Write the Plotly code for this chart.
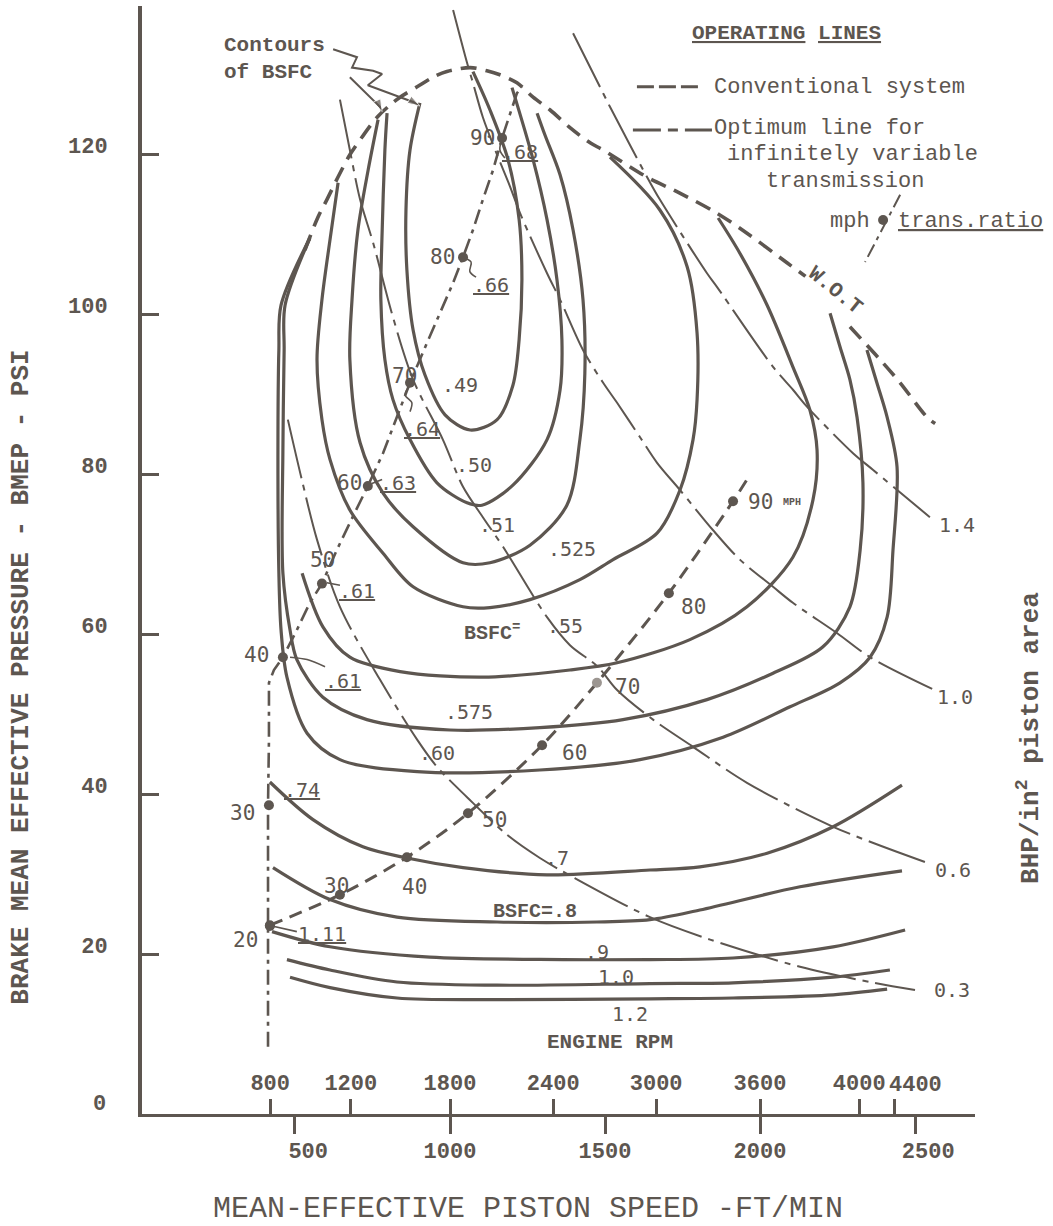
import plotly.graph_objects as go

INK = "#5d5650"
TYPE = "DejaVu Sans Mono"
MONO = "Liberation Mono"

# ---------------- axes ----------------
bmep_ticks = [20, 40, 60, 80, 100, 120]
speed_ticks = [500, 1000, 1500, 2000, 2500]
speed_labels = ["500", "1000", "1500", "2000", "2500"]
rpm_labels = ["800", "1200", "1800", "2400", "3000", "3600", "4000", "4400"]
rpm_at_speed = [420, 680, 1000, 1333, 1665, 2000, 2320, 2435]

# ---------------- BSFC contours (ft/min, BMEP psi) ----------------
c49_fpm = [903, 871, 858, 861, 881, 919, 984, 1065, 1152, 1203, 1223, 1232, 1223, 1187, 1129, 1074]
c49_bmep = [126.4, 120.5, 113.0, 105.5, 98.0, 92.4, 87.4, 85.5, 86.8, 91.1, 96.8, 104.3, 111.8, 119.3, 125.5, 130.3]

c50_fpm = [797, 790, 781, 777, 790, 816, 871, 958, 1055, 1103, 1203, 1313, 1355, 1361, 1345, 1313, 1268, 1200]
c50_bmep = [125.1, 120.5, 110.1, 101.8, 94.3, 89.3, 84.3, 78.9, 76.4, 76.1, 78.6, 84.3, 90.5, 96.8, 104.3, 111.8, 119.3, 128.3]

c51_fpm = [768, 736, 703, 684, 677, 710, 784, 881, 1042, 1129, 1258, 1377, 1419, 1435, 1429, 1397, 1355, 1306, 1281]
c51_bmep = [124.3, 118.0, 110.5, 101.8, 94.3, 83.9, 77.6, 73.4, 68.9, 68.9, 71.1, 76.1, 84.3, 92.6, 101.8, 110.5, 117.4, 122.4, 125.1]

c525_fpm = [639, 613, 587, 571, 587, 613, 677, 784, 881, 1042, 1129, 1258, 1419, 1526, 1668, 1742, 1784, 1797, 1797, 1765, 1677, 1516]
c525_bmep = [116.4, 109.3, 101.8, 94.3, 86.8, 81.8, 75.5, 70.1, 65.9, 63.4, 63.3, 64.3, 66.8, 69.3, 72.6, 78.0, 84.3, 89.3, 97.6, 105.9, 113.0, 119.6]

c55_fpm = [523, 590, 677, 839, 1106, 1387, 1539, 1774, 1958, 2106, 2171, 2184, 2161, 2106, 2023, 1935, 1865]
c55_bmep = [67.6, 60.9, 57.1, 55.3, 54.6, 55.5, 56.4, 59.3, 63.4, 69.6, 76.8, 83.0, 88.0, 93.4, 101.1, 107.6, 112.0]

c575_fpm = [548, 468, 465, 461, 461, 484, 506, 590, 732, 1000, 1290, 1558, 1829, 2042, 2203, 2290, 2323, 2332, 2313, 2290, 2258, 2226]
c575_bmep = [109.5, 101.1, 95.5, 83.0, 67.6, 60.5, 56.8, 52.1, 49.3, 48.0, 48.3, 49.3, 51.8, 55.1, 58.4, 63.4, 70.5, 78.9, 87.1, 91.8, 95.9, 100.1]

c60_fpm = [548, 455, 448, 445, 448, 455, 474, 539, 645, 894, 1290, 1613, 1881, 2097, 2258, 2355, 2410, 2429, 2442, 2410, 2377, 2345]
c60_bmep = [109.5, 101.1, 95.5, 83.0, 67.6, 60.5, 54.6, 47.6, 44.3, 42.8, 43.0, 44.3, 47.1, 50.9, 53.9, 57.1, 62.1, 70.5, 80.9, 87.1, 91.4, 95.5]

c70_fpm = [419, 558, 719, 861, 1042, 1313, 1645, 1806, 2023, 2236, 2458]
c70_bmep = [41.5, 36.8, 33.4, 32.0, 30.8, 29.9, 30.5, 30.9, 32.6, 35.9, 41.1]

c80_fpm = [429, 613, 829, 1152, 1474, 1645, 1806, 2129, 2458]
c80_bmep = [30.8, 26.8, 24.6, 24.0, 24.0, 24.3, 25.5, 28.4, 30.4]

c90_fpm = [426, 613, 935, 1365, 1645, 1913, 2236, 2468]
c90_bmep = [22.8, 20.9, 19.6, 19.3, 19.3, 19.5, 20.9, 23.0]

c100_fpm = [474, 613, 829, 1152, 1645, 1913, 2236, 2419]
c100_bmep = [19.3, 18.0, 16.5, 16.1, 16.3, 16.4, 17.1, 18.0]

c120_fpm = [484, 613, 829, 1152, 1645, 1913, 2236, 2410]
c120_bmep = [17.1, 15.8, 14.5, 14.3, 14.4, 14.5, 14.9, 15.6]

bsfc_text = [".49", ".50", ".51", ".525", ".55", ".575", ".60", ".7", ".9", "1.0", "1.2"]
bsfc_lab_fpm = [1032, 1077, 1152, 1394, 1371, 1061, 958, 1345, 1474, 1535, 1581]
bsfc_lab_bmep = [91.1, 81.1, 73.6, 70.6, 61.0, 50.3, 45.1, 32.0, 20.3, 17.1, 12.5]

# ---------------- wide open throttle ----------------
wot_fpm = [532, 574, 603, 645, 677, 716, 765, 806, 839, 894, 945, 990, 1065, 1119, 1161, 1216, 1268,
           1323, 1387, 1452, 1494, 1636, 1732, 1861, 1958, 2087, 2161, None, 2290, 2387, 2452, 2539, 2565]
wot_bmep = [108.0, 112.1, 114.3, 117.6, 119.9, 122.1, 124.6, 126.1, 127.1, 128.4, 129.6, 130.3, 130.8, 130.4, 129.9, 128.9, 127.1,
            125.5, 123.3, 121.4, 120.5, 117.1, 115.3, 112.6, 110.1, 106.4, 104.3, None, 98.4, 94.3, 91.4, 87.1, 86.3]

# ---------------- constant BHP / in^2 piston area ----------------
bhp03_fpm = [477, 522, 571, 645, 774, 894, 958, 1055, 1184, 1290, 1397, 1645, 1839, 2129, 2355, 2500]
bhp03_bmep = [86.8, 79.3, 71.8, 63.4, 54.3, 46.8, 43.4, 39.6, 34.9, 32.0, 29.6, 24.6, 21.8, 18.4, 16.5, 15.5]
bhp06_fpm = [645, 677, 710, 752, 816, 881, 977, 1042, 1106, 1171, 1313, 1387, 1477, 1539, 1655, 1784, 1958, 2236, 2532]
bhp06_bmep = [126.8, 120.5, 114.3, 108.9, 99.6, 91.8, 84.3, 78.4, 74.6, 70.9, 62.1, 58.6, 55.9, 53.0, 49.3, 45.9, 41.4, 35.9, 31.5]
bhp10_fpm = [1010, 1055, 1074, 1106, 1152, 1194, 1226, 1313, 1355, 1429, 1494, 1539, 1613, 1668, 1742, 1848, 1935, 2042, 2106, 2249, 2355, 2574]
bhp10_bmep = [138.0, 131.4, 128.9, 124.6, 119.9, 115.9, 112.6, 105.1, 101.8, 95.5, 91.4, 88.9, 84.6, 81.4, 78.0, 73.0, 69.3, 65.9, 63.9, 60.1, 57.1, 52.8]
bhp14_fpm = [1397, 1494, 1516, 1636, 1677, 1829, 1861, 2042, 2107, 2152, 2300, 2365, 2548]
bhp14_bmep = [135.1, 127.6, 125.9, 117.1, 114.3, 105.1, 103.4, 93.4, 90.5, 88.4, 82.6, 80.5, 74.6]
bhp_text = ["1.4", "1.0", "0.6", "0.3"]
bhp_lab_fpm = [2635, 2629, 2623, 2619]
bhp_lab_bmep = [73.6, 52.1, 30.5, 15.5]

# ---------------- conventional system operating line ----------------
conv_fpm = [419, 645, 861, 1058, 1297, 1474, 1706, 1913, 1958]
conv_bmep = [23.6, 27.4, 32.1, 37.6, 46.1, 53.9, 65.1, 76.6, 79.3]
conv_mph = ["20", "30", "40", "50", "60", "70", "80", "90"]
conv_lab_fpm = [635, 887, 1142, 1400, 1574, 1784, 2003]
conv_lab_bmep = [28.5, 28.4, 36.8, 45.1, 53.4, 63.4, 76.5]

# ---------------- optimum line (infinitely variable transmission) ----------------
opt_fpm = [413, 413, 413, 416, 416, 432, 461, 506, 548, 587, 635, 677, 735, 784, 829, 871, 926, 968,
           1010, 1042, 1074, 1106, 1139, 1168, 1216, 1232]
opt_bmep = [8.4, 23.5, 38.6, 46.8, 53.9, 55.5, 57.1, 60.5, 63.9, 66.3, 70.5, 73.9, 78.5, 82.6, 87.1, 91.4, 96.4, 100.1,
            103.9, 107.1, 110.5, 114.3, 118.0, 122.0, 127.6, 128.4]
opt_mph = ["20", "30", "40", "50", "60", "70", "80", "90"]
opt_dot_fpm = [419, 416, 461, 587, 735, 871, 1042, 1168]
opt_dot_bmep = [23.5, 38.6, 57.1, 66.3, 78.5, 91.4, 107.1, 122.0]
opt_lab_fpm = [339, 332, 377, 590, 677, 852, 977, 1106]
opt_lab_bmep = [21.8, 37.6, 57.4, 69.3, 78.9, 92.3, 107.1, 122.0]
ratio_text = ["1.11", ".74", ".61", ".61", ".63", ".64", ".66", ".68"]
ratio_fpm = [587, 523, 655, 700, 832, 910, 1132, 1226]
ratio_bmep = [22.5, 40.5, 54.1, 65.4, 78.9, 85.6, 103.6, 120.3]

# leaders from mph points to their ratio labels
lead20 = ([426, 506], [23.5, 22.8])
lead40 = ([484, 539, 597], [57.1, 56.8, 55.9])
lead50 = ([603, 645], [66.4, 66.1])
lead60 = ([748, 781], [78.8, 79.3])
lead70 = ([871, 855, 877, 871], [91.1, 89.9, 88.9, 87.8])
lead80 = ([1042, 1068, 1064, 1084], [107.1, 106.5, 105.3, 104.6])
lead90 = ([1168, 1161, 1177], [122.0, 120.5, 119.5])

# "Contours of BSFC" pointer
zig1_fpm = [623, 700, 684, 752, 781, 735, 881, 903]
zig1_bmep = [133.1, 132.1, 130.8, 130.4, 130.0, 128.6, 126.5, 126.0]
zig2_fpm = [677, 774, 781]
zig2_bmep = [129.6, 125.9, 125.3]

# legend samples
leg_conv_fpm = [1603, 1800]
leg_conv_bmep = [128.4, 128.4]
leg_opt_fpm = [1590, 1845]
leg_opt_bmep = [123.0, 123.0]
leg_dot = ([2397], [111.75])
leg_slash = ([2452, 2339], [114.9, 106.5])

fig = go.Figure()


def add_line(x, y, width=3.2, dash="solid", shape="spline", arrow=False):
    marker = None
    mode = "lines"
    if arrow:
        mode = "lines+markers"
        marker = dict(symbol="arrow", angleref="previous", color=INK,
                      size=[0] * (len(x) - 1) + [13])
    fig.add_trace(go.Scatter(x=x, y=y, mode=mode, hoverinfo="skip", showlegend=False, marker=marker,
                             line=dict(color=INK, width=width, dash=dash, shape=shape, smoothing=0.9)))


def add_text(x, y, s, size=20, family=TYPE, weight="normal", xanchor="center", angle=0,
             xref="x", yref="y", bg=None, align="center"):
    fig.add_annotation(x=x, y=y, xref=xref, yref=yref, text=s, showarrow=False,
                       xanchor=xanchor, yanchor="middle", textangle=angle, align=align,
                       bgcolor=bg, borderpad=0,
                       font=dict(family=family, size=size, color=INK, weight=weight))


# BHP lines
BHP_DASH = "60px,7px,6px,7px"
for xs, ys in [(bhp03_fpm, bhp03_bmep), (bhp06_fpm, bhp06_bmep), (bhp10_fpm, bhp10_bmep), (bhp14_fpm, bhp14_bmep)]:
    add_line(xs, ys, width=2, dash=BHP_DASH)

# BSFC contours
for xs, ys in [(c49_fpm, c49_bmep), (c50_fpm, c50_bmep), (c51_fpm, c51_bmep), (c525_fpm, c525_bmep),
               (c55_fpm, c55_bmep), (c575_fpm, c575_bmep), (c60_fpm, c60_bmep), (c70_fpm, c70_bmep),
               (c80_fpm, c80_bmep), (c90_fpm, c90_bmep), (c100_fpm, c100_bmep), (c120_fpm, c120_bmep)]:
    add_line(xs, ys, width=3.2)

# WOT
add_line(wot_fpm, wot_bmep, width=3.6, dash="16px,9px")

# conventional
add_line(conv_fpm, conv_bmep, width=3, dash="13px,8px")
# optimum
OPT_DASH = "15px,6px,4px,6px"
add_line(opt_fpm, opt_bmep, width=2.6, dash=OPT_DASH, shape="linear")

# leaders and pointer
for xs, ys in [lead20, lead40, lead50, lead60, lead70, lead80, lead90]:
    add_line(xs, ys, width=1.6)
add_line(zig1_fpm, zig1_bmep, width=2, shape="linear", arrow=True)
add_line(zig2_fpm, zig2_bmep, width=2, shape="linear", arrow=True)

# legend samples
add_line(leg_conv_fpm, leg_conv_bmep, width=3, dash="17px,5px", shape="linear")
add_line(leg_opt_fpm, leg_opt_bmep, width=3, dash="28px,7px,10px,7px", shape="linear")
add_line(leg_slash[0], leg_slash[1], width=2, dash="14px,5px,4px,5px", shape="linear")

# dots
fig.add_trace(go.Scatter(x=conv_fpm[:8], y=conv_bmep[:8], mode="markers", hoverinfo="skip", showlegend=False,
                         marker=dict(size=10, color=[INK] * 5 + ["#9c9691"] + [INK] * 2)))
fig.add_trace(go.Scatter(x=opt_dot_fpm, y=opt_dot_bmep, mode="markers", hoverinfo="skip", showlegend=False,
                         marker=dict(size=10, color=INK)))
fig.add_trace(go.Scatter(x=leg_dot[0], y=leg_dot[1], mode="markers", hoverinfo="skip", showlegend=False,
                         marker=dict(size=10, color=INK)))
# carrier for the rpm scale
fig.add_trace(go.Scatter(x=rpm_at_speed, y=[0] * len(rpm_at_speed), xaxis="x2", mode="markers",
                         marker=dict(opacity=0), hoverinfo="skip", showlegend=False))

# ---------------- text ----------------
for s, x, y in zip(bsfc_text, bsfc_lab_fpm, bsfc_lab_bmep):
    add_text(x, y, s, size=20)
add_text(1135, 60.3, "BSFC<sup>=</sup>", size=20, family=MONO, weight="bold")
add_text(1274, 25.3, "BSFC=.8", size=20, family=MONO, weight="bold")

for s, x, y in zip(bhp_text, bhp_lab_fpm, bhp_lab_bmep):
    add_text(x, y, s, size=20)

for s, x, y in zip(conv_mph[1:], conv_lab_fpm, conv_lab_bmep):
    add_text(x, y, s, size=21)
add_text(2103, 76.4, "MPH", size=10, family=MONO, weight="bold")

for s, x, y in zip(opt_mph, opt_lab_fpm, opt_lab_bmep):
    add_text(x, y, s, size=21)
for s, x, y in zip(ratio_text, ratio_fpm, ratio_bmep):
    add_text(x, y, "<u>" + s + "</u>", size=20)

add_text(2242, 103.0, "W.O.T", size=21, family=MONO, weight="bold", angle=39, bg="white")
add_text(268, 131.9, "Contours<br>of BSFC", size=21, family=MONO, weight="bold", xanchor="left", align="left")
add_text(2084, 135.1, "<u>OPERATING</u> <u>LINES</u>", size=21, family=MONO, weight="bold")
add_text(1848, 128.3, "Conventional system", size=22, family=MONO, xanchor="left")
add_text(1848, 123.2, "Optimum line for", size=22, family=MONO, xanchor="left")
add_text(2297, 119.9, "infinitely variable", size=22, family=MONO)
add_text(2274, 116.6, "transmission", size=22, family=MONO)
add_text(2290, 111.6, "mph", size=22, family=MONO)
add_text(2442, 111.6, "<u>trans.ratio</u>", size=22, family=MONO, xanchor="left")
add_text(1516, 8.9, "ENGINE RPM", size=21, family=MONO, weight="bold")
# last rpm label sits to the right of its tick; zero label of the BMEP scale
add_text(2500, 3.6, rpm_labels[-1], size=22, family=MONO, weight="bold")
add_text(-0.0516, 1.25, "0", size=22, family=MONO, weight="bold", xref="paper", yref="y")

add_text(-0.145, 0.394, "BRAKE MEAN EFFECTIVE PRESSURE - BMEP - PSI", size=26, family=MONO, weight="bold",
         angle=-90, xref="paper", yref="paper")
add_text(1.0648, 0.3394, "BHP/in<sup>2</sup> piston area", size=26, family=MONO, weight="bold",
         angle=-90, xref="paper", yref="paper")
add_text(0.4634, -0.0857, "MEAN-EFFECTIVE PISTON SPEED -FT/MIN", size=30, family=MONO,
         xref="paper", yref="paper")

NB = "\u00a0"
speed_text = [NB * 2 + speed_labels[0]] + speed_labels[1:4] + [NB * 2 + speed_labels[4]]
rpm_text = rpm_labels[:-1] + [NB]
tick_font = dict(family=MONO, size=22, color=INK, weight="bold")
XR = [6.5, 2693.5]

fig.update_layout(
    width=1053, height=1226,
    margin=dict(l=142, r=78, t=6, b=112),
    paper_bgcolor="white", plot_bgcolor="white",
    showlegend=False,
    xaxis=dict(range=XR, tickvals=speed_ticks, ticktext=speed_text, tickangle=0,
               ticks="outside", ticklen=17, tickwidth=3, tickcolor=INK,
               showline=True, linewidth=3, linecolor=INK, showgrid=False, zeroline=False,
               tickfont=tick_font, ticklabelstandoff=-2, fixedrange=True),
    xaxis2=dict(overlaying="x", side="bottom", anchor="y", range=XR, tickvals=rpm_at_speed,
                ticktext=rpm_text, tickangle=0, ticks="inside", ticklabelposition="inside",
                ticklen=15, tickwidth=3, tickcolor=INK, showline=False, showgrid=False,
                zeroline=False, tickfont=tick_font, ticklabelstandoff=6, fixedrange=True),
    yaxis=dict(range=[0, 138.5], tickvals=bmep_ticks, ticks="inside", ticklen=17, tickwidth=3,
               tickcolor=INK, showline=True, linewidth=4, linecolor=INK, showgrid=False,
               zeroline=False, tickfont=tick_font, ticklabelstandoff=26, ticklabelshift=-9,
               fixedrange=True),
)

fig.write_html("out.html", config={"displayModeBar": False},
               post_script="document.body.style.margin='0px';document.body.style.padding='0px';")
